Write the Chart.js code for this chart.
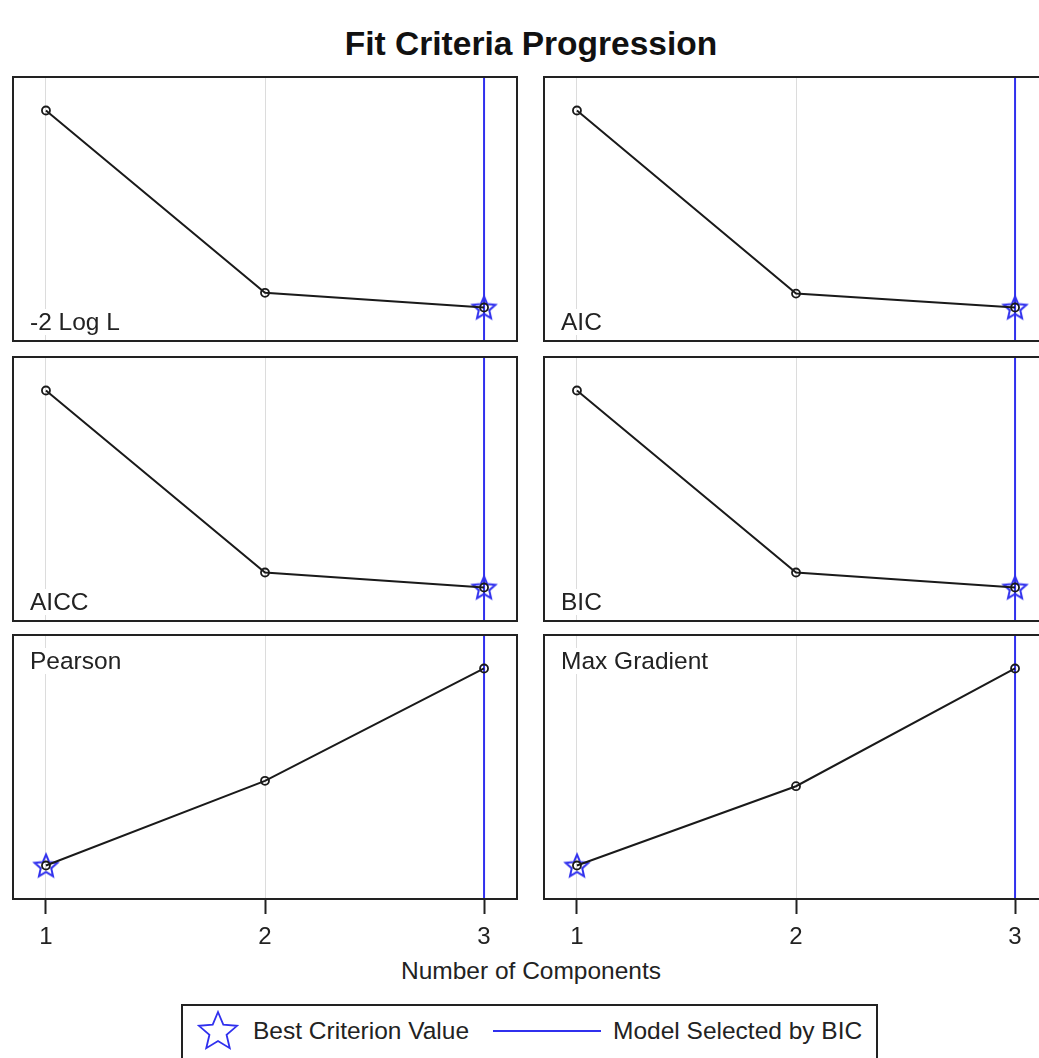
<!DOCTYPE html>
<html>
<head>
<meta charset="utf-8">
<script src="https://cdn.jsdelivr.net/npm/chart.js@4.4.1/dist/chart.umd.min.js"></script>
<style>
  html, body { margin: 0; padding: 0; background: #fff; overflow: hidden; }
  body { width: 1039px; height: 1058px; position: relative; font-family: "Liberation Sans", Arial, sans-serif; color: #222; }
  canvas.panel { position: absolute; }
  .title { position: absolute; left: 531px; top: 25px; transform: translateX(-50%); font-weight: bold; font-size: 33.5px; white-space: nowrap; color: #111; }
  .xlabel { position: absolute; left: 531px; top: 957px; transform: translateX(-50%); font-size: 24.5px; white-space: nowrap; }
  .legend { position: absolute; left: 181px; top: 1004px; width: 697px; height: 80px; border: 2px solid #222; box-sizing: border-box; }
  .legend span { position: absolute; top: 11px; font-size: 24.5px; white-space: nowrap; }
  .legend .swatch { position: absolute; left: 310px; top: 24px; width: 108px; height: 2px; background: #3030ee; }
</style>
</head>
<body>
<div class="title">Fit Criteria Progression</div>
<div class="xlabel">Number of Components</div>
<div class="legend">
  <canvas id="legendStar" width="50" height="50" style="position:absolute;left:10px;top:0px"></canvas>
  <span style="left:70px">Best Criterion Value</span>
  <div class="swatch"></div>
  <span style="left:430px">Model Selected by BIC</span>
</div>

<script>
// values (y axes are not shown, so the scale is estimated)
const components = [1, 2, 3];
const criteria = ['-2 Log L', 'AIC', 'AICC', 'BIC', 'Pearson', 'Max Gradient'];
const negTwoLogL = [1452.4, 1233.5, 1215.8];
const aic = [1458.4, 1251.5, 1235.8];
const aicc = [1458.6, 1253.8, 1236.9];
const bic = [1470.1, 1285.6, 1270.4];
const pearson = [148.2, 196.3, 260.1];
const maxGradient = [0.00012, 0.00045, 0.00094];
const bestIndex = [2, 2, 2, 2, 0, 0];
const selectedComponents = 3;
const tickValues = [1, 2, 3];

const seriesList = [negTwoLogL, aic, aicc, bic, pearson, maxGradient];
const labelAtTop = [false, false, false, false, true, true];

const BLUE = '#3030ee';

function makeStar(size, outer, inner, width) {
    const c = document.createElement('canvas');
    c.width = size; c.height = size;
    drawStar(c.getContext('2d'), size / 2, size / 2 + 1, outer, inner, width);
    return c;
}

function drawStar(ctx, cx, cy, outer, inner, width) {
    ctx.beginPath();
    for (let i = 0; i < 10; i++) {
        const r = i % 2 === 0 ? outer : inner;
        const a = -Math.PI / 2 + i * Math.PI / 5;
        const px = cx + r * Math.cos(a), py = cy + r * Math.sin(a);
        if (i === 0) ctx.moveTo(px, py); else ctx.lineTo(px, py);
    }
    ctx.closePath();
    ctx.strokeStyle = BLUE;
    ctx.lineWidth = width;
    ctx.stroke();
}

const starImg = makeStar(28, 12, 5.5, 2);
drawStar(document.getElementById('legendStar').getContext('2d'), 25, 26, 20, 9, 1.8);

// frame + criterion label
const panelDecor = {
    id: 'panelDecor',
    afterDraw(chart, args, opts) {
        const { ctx, chartArea: a } = chart;
        ctx.save();
        ctx.font = '24.5px "Liberation Sans", Arial, sans-serif';
        const tx = a.left + 18;
        const ty = opts.top ? a.top + 35 : a.bottom - 12;
        const w = ctx.measureText(opts.text).width;
        ctx.fillStyle = '#fff';
        ctx.fillRect(tx - 2, ty - 21, w + 4, 26);
        ctx.fillStyle = '#222';
        ctx.fillText(opts.text, tx, ty);
        ctx.strokeStyle = '#222';
        ctx.lineWidth = 2;
        ctx.strokeRect(a.left + 1, a.top + 1, a.right - a.left - 2, a.bottom - a.top - 2);
        ctx.restore();
    }
};

const colLeft = [12, 543];
const rowTop = [76, 356, 634];
const panelW = 506, panelH = 266, axisH = 52;

seriesList.forEach((vals, i) => {
    const col = i % 2, row = Math.floor(i / 2);
    const bottom = row === 2;
    const lo = Math.min(...vals), hi = Math.max(...vals);
    const pad = (hi - lo) * 0.175;
    const ymin = lo - pad, ymax = hi + pad;

    const cv = document.createElement('canvas');
    cv.className = 'panel';
    cv.width = panelW;
    cv.height = panelH + (bottom ? axisH : 0);
    cv.style.left = colLeft[col] + 'px';
    cv.style.top = rowTop[row] + 'px';
    document.body.appendChild(cv);

    const b = bestIndex[i];
    new Chart(cv.getContext('2d'), {
        type: 'line',
        data: {
            datasets: [
                {
                    data: components.map((c, k) => ({ x: c, y: vals[k] })),
                    borderColor: '#1a1a1a',
                    borderWidth: 2,
                    pointRadius: 4,
                    pointBorderWidth: 1.8,
                    pointBorderColor: '#1a1a1a',
                    pointBackgroundColor: 'rgba(255,255,255,0)',
                    tension: 0,
                    order: 0
                },
                {
                    data: [{ x: components[b], y: vals[b] }],
                    showLine: false,
                    pointStyle: starImg,
                    pointRadius: 12,
                    order: 1
                },
                {
                    data: [{ x: selectedComponents, y: ymin }, { x: selectedComponents, y: ymax }],
                    borderColor: BLUE,
                    borderWidth: 2,
                    pointRadius: 0,
                    order: 2
                }
            ]
        },
        options: {
            responsive: false,
            animation: false,
            events: [],
            layout: { padding: 0, autoPadding: false },
            plugins: {
                legend: { display: false },
                tooltip: { enabled: false },
                panelDecor: { text: criteria[i], top: labelAtTop[i] }
            },
            scales: {
                x: {
                    type: 'linear',
                    min: 0.845,
                    max: 3.155,
                    afterBuildTicks: axis => { axis.ticks = tickValues.map(v => ({ value: v })); },
                    afterFit: axis => { axis.height = bottom ? axisH : 0; },
                    border: { display: false },
                    grid: {
                        color: '#dcdcdc',
                        lineWidth: 1,
                        drawTicks: bottom,
                        tickLength: 14,
                        tickColor: '#222',
                        tickWidth: 2
                    },
                    ticks: {
                        display: bottom,
                        padding: 9,
                        color: '#222',
                        font: { family: '"Liberation Sans", Arial, sans-serif', size: 24 }
                    }
                },
                y: { display: false, min: ymin, max: ymax }
            }
        },
        plugins: [panelDecor]
    });
});
</script>
</body>
</html>
